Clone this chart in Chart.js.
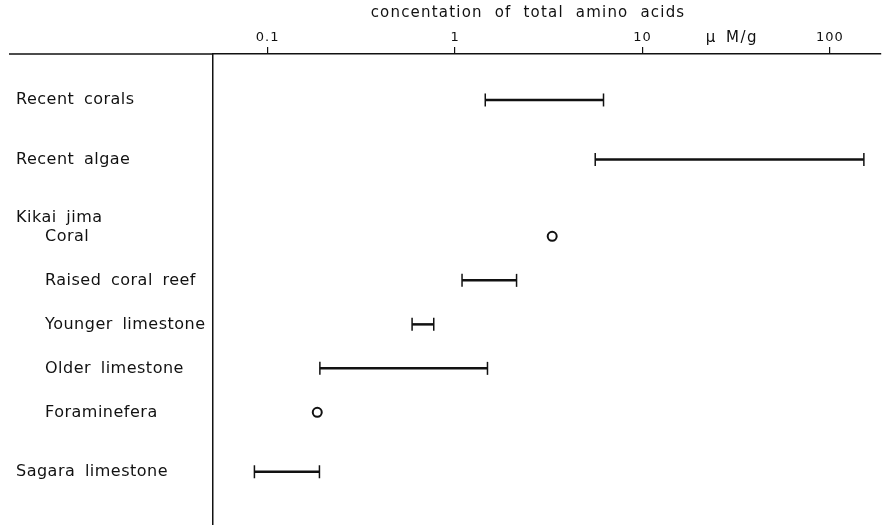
<!DOCTYPE html>
<html>
<head>
<meta charset="utf-8">
<script src="https://cdn.jsdelivr.net/npm/chart.js@4"></script>
<style>
  html, body { margin: 0; padding: 0; background: #fff; }
</style>
</head>
<body>
<canvas id="chart" width="883" height="525"></canvas>
<script>
const axisTitle = 'concentation of total amino acids';
const unitLabel = 'μ M/g';
const xTicks = [0.1, 1, 10, 100];
const rows = ['Recent corals', 'Recent algae', 'Coral', 'Raised coral reef', 'Younger limestone', 'Older limestone', 'Foraminefera', 'Sagara limestone'];
const groups = [null, null, 'Kikai jima', 'Kikai jima', 'Kikai jima', 'Kikai jima', 'Kikai jima', null];
const lowValues = [1.45, 5.6, 3.3, 1.09, 0.59, 0.19, 0.184, 0.085];
const highValues = [6.2, 152, 3.3, 2.13, 0.77, 1.49, 0.184, 0.189];

const FONT = 'DejaVu Sans';

// vertical slot of each row: sub items sit closer, a group heading takes extra room
const slots = [];
rows.forEach((r, i) => {
  if (i === 0) { slots.push(0); return; }
  const sameGroup = groups[i] && groups[i] === groups[i - 1];
  let s = slots[i - 1] + (sameGroup ? 1 : 1.35);
  if (groups[i] && !sameGroup) s += 0.4;
  slots.push(s);
});

const datasets = rows.map((name, i) => {
  const single = lowValues[i] === highValues[i];
  const pts = single
    ? [{ x: lowValues[i], y: slots[i] }]
    : [{ x: lowValues[i], y: slots[i] }, { x: highValues[i], y: slots[i] }];
  return {
    label: name,
    data: pts,
    borderColor: '#111',
    borderWidth: 2.5,
    showLine: !single,
    pointStyle: single ? 'circle' : 'line',
    pointRotation: single ? 0 : 90,
    pointRadius: single ? 4.5 : 6.5,
    pointBorderWidth: single ? 2 : 1.5,
    pointBackgroundColor: '#fff',
    pointBorderColor: '#111'
  };
});

const labelsPlugin = {
  id: 'rowLabels',
  beforeDraw(chart) {
    // plotter lettering is widely spaced
    chart.ctx.letterSpacing = '1px';
  },
  afterDraw(chart) {
    const { ctx, chartArea, scales } = chart;
    const y = scales.y, x = scales.x;
    ctx.save();
    ctx.fillStyle = '#111';
    ctx.textBaseline = 'middle';
    ctx.textAlign = 'left';
    ctx.font = '16px "' + FONT + '"';
    ctx.letterSpacing = '0.5px';
    ctx.wordSpacing = '4px';
    rows.forEach((name, i) => {
      const indent = groups[i] ? 45 : 16;
      if (groups[i] && groups[i] !== groups[i - 1]) {
        ctx.fillText(groups[i], 16, y.getPixelForValue(slots[i] - 0.42));
      }
      ctx.fillText(name, indent, y.getPixelForValue(slots[i]));
    });
    // title and unit above the axis
    ctx.font = '15px "' + FONT + '"';
    ctx.textAlign = 'center';
    ctx.letterSpacing = '1.2px';
    ctx.wordSpacing = '6px';
    ctx.fillText(axisTitle, 528, 13);
    ctx.letterSpacing = '1.5px';
    ctx.wordSpacing = '3px';
    ctx.fillText(unitLabel, x.getPixelForValue(30), 38);
    // top rule carries on to the left of the frame
    ctx.strokeStyle = '#111';
    ctx.lineWidth = 1.5;
    ctx.beginPath();
    ctx.moveTo(9, chartArea.top);
    ctx.lineTo(chartArea.left, chartArea.top);
    ctx.stroke();
    ctx.restore();
  }
};

new Chart(document.getElementById('chart'), {
  type: 'line',
  data: { datasets: datasets },
  plugins: [labelsPlugin],
  options: {
    responsive: false,
    animation: false,
    devicePixelRatio: 1,
    layout: { autoPadding: false, padding: { right: 2 } },
    plugins: {
      legend: { display: false },
      tooltip: { enabled: false }
    },
    scales: {
      x: {
        type: 'logarithmic',
        position: 'top',
        min: 0.0511,
        max: 187.6,
        afterFit: s => { s.height = 54; },
        afterBuildTicks: s => { s.ticks = xTicks.map(v => ({ value: v })); },
        ticks: {
          color: '#111',
          font: { family: FONT, size: 13 },
          padding: 2,
          autoSkip: false,
          maxRotation: 0,
          callback: v => String(v)
        },
        grid: { drawOnChartArea: false, drawTicks: true, tickLength: 7, color: '#111', lineWidth: 1.2 },
        border: { display: true, color: '#111', width: 1.5 }
      },
      y: {
        type: 'linear',
        reverse: true,
        min: -1.045,
        max: 9.66,
        afterFit: s => { s.width = 213; },
        ticks: { display: false },
        grid: { display: false },
        border: { display: true, color: '#111', width: 1.5 }
      }
    }
  }
});
</script>
</body>
</html>
